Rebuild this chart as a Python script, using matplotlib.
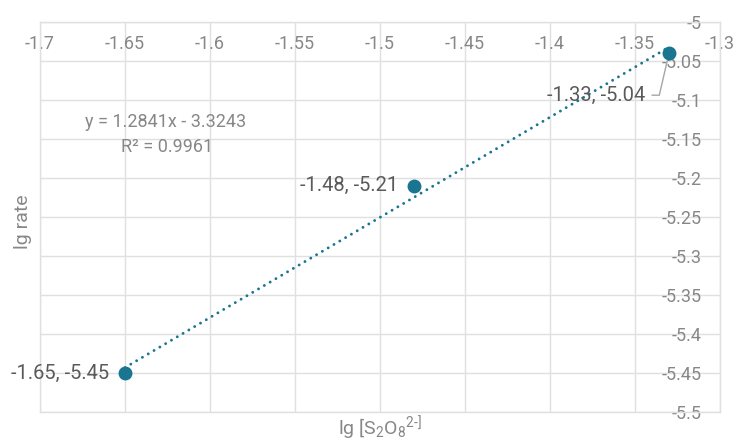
import matplotlib
matplotlib.use("Agg")
import matplotlib.pyplot as plt
import numpy as np

plt.rcParams['font.family'] = ['Roboto', 'DejaVu Sans']
plt.rcParams['mathtext.fontset'] = 'custom'
plt.rcParams['mathtext.rm'] = 'Roboto'
plt.rcParams['mathtext.it'] = 'Roboto'

# data
x_vals = [-1.65, -1.48, -1.33]
y_vals = [-5.45, -5.21, -5.04]
point_labels = ["-1.65, -5.45", "-1.48, -5.21", "-1.33, -5.04"]
slope, intercept = 1.2841, -3.3243
eq_text = "y = 1.2841x - 3.3243"
r2_text = "R² = 0.9961"
x_ticks = [-1.7, -1.65, -1.6, -1.55, -1.5, -1.45, -1.4, -1.35, -1.3]
x_tick_labels = ["-1.7", "-1.65", "-1.6", "-1.55", "-1.5", "-1.45", "-1.4", "-1.35", "-1.3"]
y_ticks = [-5, -5.05, -5.1, -5.15, -5.2, -5.25, -5.3, -5.35, -5.4, -5.45, -5.5]
y_tick_labels = ["-5", "-5.05", "-5.1", "-5.15", "-5.2", "-5.25", "-5.3", "-5.35", "-5.4", "-5.45", "-5.5"]
x_title = r"lg [S$_2$O$_8$$^{2\text{-}]}$"
y_title = "lg rate"

teal = '#1A7591'
tick_col = '#878787'
lab_col = '#5A5A5A'
grid_col = '#E0E0E0'

W, H = 736, 441
fig = plt.figure(figsize=(W/100, H/100), dpi=100)
ax = fig.add_axes([40/W, 1-412/H, 680/W, 390/H])
ax.set_xlim(-1.7, -1.3)
ax.set_ylim(-5.5, -5.0)

ax.set_xticks(x_ticks)
ax.set_xticklabels(x_tick_labels)
ax.set_yticks(y_ticks)
ax.set_yticklabels(y_tick_labels)
ax.grid(True, color=grid_col, linewidth=1)
ax.set_axisbelow(True)
for s in ax.spines.values():
    s.set_color(grid_col)
    s.set_linewidth(1)

ax.tick_params(axis='x', top=False, bottom=False, labeltop=True, labelbottom=False,
               length=0, pad=-22.5, labelsize=13, labelcolor=tick_col)
ax.tick_params(axis='y', left=False, right=False, labelleft=False, labelright=True,
               length=0, pad=-13, labelsize=13, labelcolor=tick_col)
for lab in ax.get_yticklabels():
    lab.set_horizontalalignment('right')

# trendline
xt = np.array([min(x_vals), max(x_vals)])
ax.plot(xt, slope*xt + intercept, linestyle=(0, (0.01, 2.3)), color=teal, linewidth=2.1,
        dash_capstyle='round', solid_capstyle='round', zorder=3)
ax.plot(x_vals, y_vals, 'o', color=teal, markersize=9, zorder=4)

# data labels
ax.annotate(point_labels[0], (x_vals[0], y_vals[0]), xytext=(-16, 0), textcoords='offset pixels',
            ha='right', va='center', fontsize=14.5, color=lab_col)
ax.annotate(point_labels[1], (x_vals[1], y_vals[1]), xytext=(-16, 0), textcoords='offset pixels',
            ha='right', va='center', fontsize=14.5, color=lab_col)
ax.annotate(point_labels[2], (x_vals[2], y_vals[2]), xytext=(-24, -42), textcoords='offset pixels',
            ha='right', va='center', fontsize=14.5, color=lab_col,
            arrowprops=dict(arrowstyle='-', color='#A6A6A6', lw=1, relpos=(1, 0.5),
                            connectionstyle='angle,angleA=0,angleB=77,rad=0',
                            shrinkA=3, shrinkB=5))

# equation
ax.text((166-40)/680, 1-(122-22)/390, eq_text, transform=ax.transAxes, ha='center', va='center',
        fontsize=13, color=tick_col)
ax.text((167-40)/680, 1-(147-22)/390, r2_text, transform=ax.transAxes, ha='center', va='center',
        fontsize=13, color=tick_col)

fig.text(380/W, 1-428/H, x_title, ha='center', va='center', fontsize=14, color=tick_col)
fig.text(23/W, 1-222/H, y_title, ha='center', va='center', rotation=90, fontsize=14, color=tick_col)

fig.savefig('out.png', dpi=100)
